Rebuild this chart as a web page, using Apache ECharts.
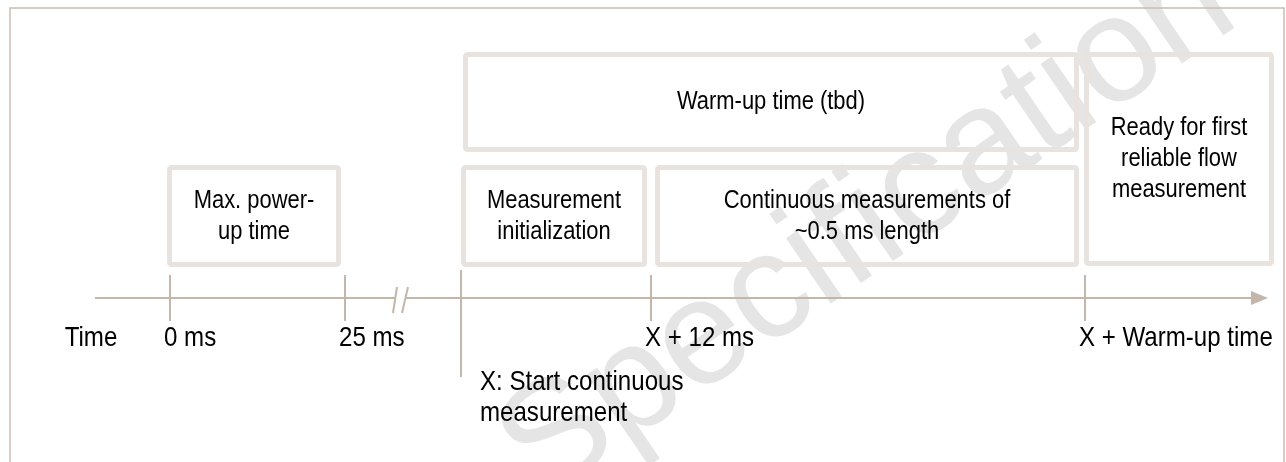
<!DOCTYPE html>
<html>
<head>
<meta charset="utf-8">
<script src="https://cdn.jsdelivr.net/npm/echarts@6/dist/echarts.min.js"></script>
<style>
  html, body { margin: 0; padding: 0; background: #fff; }
  #chart { width: 1286px; height: 462px; }
</style>
</head>
<body>
<div id="chart"></div>
<script>
// schematic timeline, x = position along the time line, y = lane height (top down)
const boxLabels = [
  "Warm-up time (tbd)",
  "Ready for first\nreliable flow\nmeasurement",
  "Max. power-\nup time",
  "Measurement\ninitialization",
  "Continuous measurements of\n~0.5 ms length",
];
const boxStart = [463, 1084, 167, 461, 655];
const boxEnd = [1079, 1274, 341, 647, 1079];
const boxTop = [52, 52, 165, 165, 165];
const boxBottom = [152, 266, 267, 267, 267];

const tickPos = [170, 345, 461, 651, 1085];
const tickTop = [275, 275, 270, 275, 275];
const tickBottom = [321, 321, 377, 321, 321];
const tickLabels = ["0 ms", "25 ms", "X: Start continuous\nmeasurement", "X + 12 ms", "X + Warm-up time"];

const timeLine = [95, 1268]; // start / arrow tip
const timeLevel = 298;
const breakPos = [395, 406];

const FONT = "'Liberation Sans', Arial, sans-serif";
const BORDER = "#e8e3de";
const LINE = "#c3b7ab";

const chart = echarts.init(document.getElementById("chart"));

// text looks a bit narrow in the original, squeeze it horizontally
const txt = (x, y, text, align, vAlign, size) => ({
  type: "text",
  z2: 10,
  x: x, y: y,
  scaleX: 0.86,
  style: {
    x: 0, y: 0, text: text,
    fill: "#000", fontSize: size, fontFamily: FONT,
    align: align, verticalAlign: vAlign, lineHeight: 31,
  },
});

const option = {
  animation: false,
  grid: { left: 0, right: 0, top: 0, bottom: 0 },
  xAxis: { type: "value", min: 0, max: 1286, show: false },
  yAxis: { type: "value", min: 0, max: 462, inverse: true, show: false },
  graphic: [
    {
      type: "text",
      z: 0,
      x: 868, y: 228,
      rotation: 0.6,
      style: {
        text: "Specification",
        fill: "#e5e5e5",
        fontSize: 150,
        fontFamily: FONT,
        align: "center",
        verticalAlign: "middle",
      },
    },
  ],
  series: [
    // outer frame
    {
      type: "custom",
      silent: true,
      data: [[0]],
      renderItem: (params, api) => {
        const tl = api.coord([10, 8]);
        const tr = api.coord([1284, 8]);
        const bl = api.coord([10, 462]);
        const br = api.coord([1284, 462]);
        return {
          type: "polyline",
          shape: { points: [bl, tl, tr, br] },
          style: { stroke: "#c9beb3", lineWidth: 1.5, fill: null },
        };
      },
    },
    // boxes
    {
      type: "custom",
      silent: true,
      data: boxLabels.map((l, i) => [boxStart[i], boxEnd[i], boxTop[i], boxBottom[i], i]),
      encode: { x: [0, 1], y: [2, 3] },
      renderItem: (params, api) => {
        const i = api.value(4);
        const p0 = api.coord([api.value(0), api.value(2)]);
        const p1 = api.coord([api.value(1), api.value(3)]);
        const lw = 5;
        return {
          type: "group",
          children: [
            {
              type: "rect",
              shape: { x: p0[0] + lw / 2, y: p0[1] + lw / 2, width: p1[0] - p0[0] - lw, height: p1[1] - p0[1] - lw, r: 2 },
              style: { stroke: BORDER, lineWidth: lw, fill: null },
            },
            txt((p0[0] + p1[0]) / 2, (p0[1] + p1[1]) / 2, boxLabels[i], "center", "middle", 25.5),
          ],
        };
      },
    },
    // time line with break and arrow
    {
      type: "custom",
      silent: true,
      data: [[timeLine[0], timeLine[1], timeLevel]],
      renderItem: (params, api) => {
        const a = api.coord([api.value(0), api.value(2)]);
        const b = api.coord([api.value(1), api.value(2)]);
        const k0 = api.coord([breakPos[0], timeLevel]);
        const k1 = api.coord([breakPos[1], timeLevel]);
        const ls = { stroke: LINE, lineWidth: 2 };
        return {
          type: "group",
          children: [
            { type: "line", shape: { x1: a[0], y1: a[1], x2: k0[0], y2: k0[1] }, style: ls },
            { type: "line", shape: { x1: k1[0], y1: k1[1], x2: b[0] - 14, y2: b[1] }, style: ls },
            { type: "line", shape: { x1: k0[0] + 2, y1: a[1] - 11, x2: k0[0] - 2, y2: a[1] + 15 }, style: ls },
            { type: "line", shape: { x1: k1[0] + 2, y1: a[1] - 11, x2: k1[0] - 4, y2: a[1] + 15 }, style: ls },
            {
              type: "polygon",
              shape: { points: [[b[0], b[1]], [b[0] - 17, b[1] - 7], [b[0] - 17, b[1] + 7]] },
              style: { fill: LINE },
            },
            txt(a[0] - 4, a[1] + 40, "Time", "center", "middle", 28),
          ],
        };
      },
    },
    // ticks and labels
    {
      type: "custom",
      silent: true,
      data: tickPos.map((x, i) => [x, tickTop[i], tickBottom[i], i]),
      encode: { x: 0, y: [1, 2] },
      renderItem: (params, api) => {
        const i = api.value(3);
        const t = api.coord([api.value(0), api.value(1)]);
        const b = api.coord([api.value(0), api.value(2)]);
        const long = i === 2;
        return {
          type: "group",
          children: [
            { type: "line", shape: { x1: t[0], y1: t[1], x2: b[0], y2: b[1] }, style: { stroke: LINE, lineWidth: 2 } },
            long
              ? txt(t[0] + 19, b[1] - 10, tickLabels[i], "left", "top", 28)
              : txt(t[0] - 6, b[1] + 17, tickLabels[i], "left", "middle", 28),
          ],
        };
      },
    },
  ],
};

chart.setOption(option);
</script>
</body>
</html>
